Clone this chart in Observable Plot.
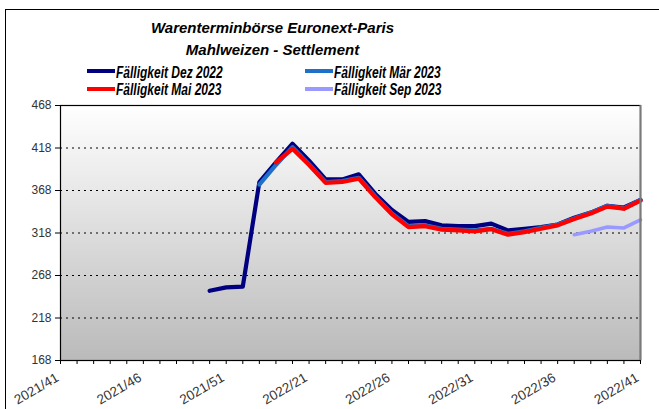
<!DOCTYPE html>
<html><head><meta charset="utf-8">
<script src="https://cdn.jsdelivr.net/npm/d3@7"></script>
<script src="https://cdn.jsdelivr.net/npm/@observablehq/plot@0.6"></script>
<style>
body{margin:0;background:#fff;font-family:"Liberation Sans",Arial,sans-serif;}
#wrap{position:relative;width:659px;height:409px;overflow:hidden;background:#fff;}
#chart{position:absolute;left:0;top:0;}
#border{position:absolute;left:5px;top:9px;width:700px;height:500px;border:1px solid #000;pointer-events:none;}
.t{position:absolute;left:0;width:545px;text-align:center;font-weight:bold;font-style:italic;font-size:15px;line-height:15px;color:#000;white-space:nowrap;}
.lg{position:absolute;height:4px;width:28px;}
.lt{position:absolute;font-weight:bold;font-style:italic;font-size:16px;line-height:16px;white-space:nowrap;transform:scaleX(0.75);transform-origin:0 0;color:#000;}
</style></head>
<body>
<div id="wrap">
  <div id="chart"></div>
  <div class="t" style="top:20px">Warenterminbörse Euronext-Paris</div>
  <div class="t" style="top:42px">Mahlweizen - Settlement</div>
  <div id="legend"></div>
  <div id="border"></div>
</div>
<script>
// Categories (calendar weeks)
const weeks = ["2021/41","2021/42","2021/43","2021/44","2021/45","2021/46","2021/47","2021/48","2021/49","2021/50","2021/51","2021/52",
  "2022/18","2022/19","2022/20","2022/21","2022/22","2022/23","2022/24","2022/25","2022/26","2022/27","2022/28","2022/29",
  "2022/30","2022/31","2022/32","2022/33","2022/34","2022/35","2022/36","2022/37","2022/38","2022/39","2022/40","2022/41"];
const weekLabels = ["2021/41","2021/46","2021/51","2022/21","2022/26","2022/31","2022/36","2022/41"];
const yTicks = [168,218,268,318,368,418,468];
const seriesNames = ["Fälligkeit Dez 2022","Fälligkeit Mär 2023","Fälligkeit Mai 2023","Fälligkeit Sep 2023"];
const seriesColors = ["#000080","#1F70C8","#FF0000","#9999FF"];
const dez2022 = [null,null,null,null,null,null,null,null,null,250,254,255,
  378,401,423,403,381,381,387,364,345,331,332,327,
  326,326,329,321,323,325,328,336,342,350,348,357];
const mar2023 = [null,null,null,null,null,null,null,null,null,null,null,null,
  375,398,419,399,378,379,383,361,341,326,327,323,
  322,321,323,317,320,324,328,335,342,350,347,357];
const mai2023 = [null,null,null,null,null,null,null,null,null,null,null,null,
  null,401,417,398,377,378,382,360,340,325,326,322,
  321,320,322.5,316,319,323,327,334.5,341,349,346.5,356];
const sep2023 = [null,null,null,null,null,null,null,null,null,null,null,null,
  null,null,null,null,null,null,null,null,null,null,null,null,
  null,null,null,null,null,null,null,316,320,325,324,333.5];

const seriesValues = [dez2022, mar2023, mai2023, sep2023];
const toRows = (vals) => weeks.map((w,i)=>({week:w, value:vals[i]}));

const defs = () => {
  const d = d3.create("svg:defs");
  const g = d.append("linearGradient").attr("id","bgGrad").attr("x1",0).attr("y1",0).attr("x2",0).attr("y2",1);
  g.append("stop").attr("offset","0%").attr("stop-color","#ffffff");
  g.append("stop").attr("offset","100%").attr("stop-color","#bababa");
  return d.node();
};

const widths = [4.2,4.2,4.2,3.5];
const chart = Plot.plot({
  width: 659, height: 409,
  marginTop: 105, marginLeft: 60, marginRight: 19, marginBottom: 49,
  style: {background: "transparent", fontFamily: "Liberation Sans, Arial, sans-serif"},
  x: {type: "point", domain: weeks, padding: 0, round: false},
  y: {domain: [168, 468]},
  marks: [
    defs,
    Plot.frame({fill: "url(#bgGrad)"}),
    Plot.ruleY(yTicks.slice(1, -1), {stroke: "#000", strokeDasharray: "2,4", strokeWidth: 1}),
    ...seriesValues.map((vals, k) => Plot.line(toRows(vals), {x: "week", y: "value", stroke: seriesColors[k], strokeWidth: widths[k]})),
    Plot.frame({stroke: "#000", strokeWidth: 1.2}),
    Plot.ruleX([weeks[weeks.length-1]], {y1: 168, y2: 468, stroke: "#7a7a7a", strokeWidth: 2}),
    Plot.axisY({ticks: yTicks, tickSize: 5, tickPadding: 4, fontSize: 12, fill: "#333", stroke: "#000", label: null}),
    Plot.axisX({ticks: weeks, tickSize: 4, tickFormat: () => "", stroke: "#000", label: null}),
    Plot.axisX({ticks: weekLabels, tickSize: 0, tickRotate: -30, tickPadding: 16, dx: -3, fontSize: 13.5, fill: "#333", label: null})
  ]
});
document.getElementById("chart").appendChild(chart);

// Legend
const lg = document.getElementById("legend");
const pos = [[87,69,116,64.5],[305,69,334,64.5],[87,87.3,116,81.5],[305,87.3,334,81.5]];
seriesNames.forEach((name,k)=>{
  const [lx,ly,tx,ty] = pos[k];
  const l = document.createElement("div");
  l.className = "lg"; l.style.left = lx+"px"; l.style.top = ly+"px"; l.style.background = seriesColors[k];
  lg.appendChild(l);
  const t = document.createElement("div");
  t.className = "lt"; t.style.left = tx+"px"; t.style.top = ty+"px"; t.textContent = name;
  lg.appendChild(t);
});
</script>
</body></html>
